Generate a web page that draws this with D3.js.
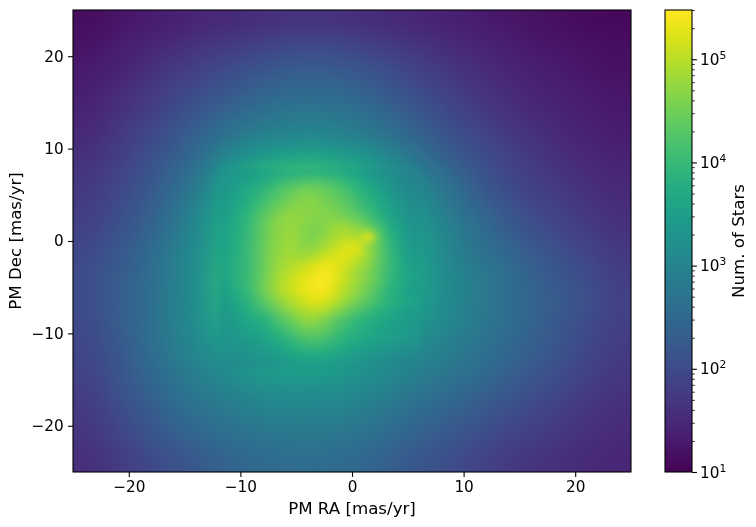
<!DOCTYPE html>
<html>
<head>
<meta charset="utf-8">
<script src="https://cdn.jsdelivr.net/npm/d3@7"></script>
<style>
body { margin: 0; background: #fff; }
#chart { position: relative; width: 756px; height: 527px; overflow: hidden; }
canvas, svg { position: absolute; left: 0; top: 0; }
text { font-family: "DejaVu Sans", sans-serif; fill: #000; }
</style>
</head>
<body>
<div id="chart"></div>
<script>
var width = 756,
	height = 527;

// all star counts are read off the picture, stored as 100*log10(count)
// coarse grid over the whole plot, 2.5 mas/yr cells, top row first
var outerX = d3.range(20).map(function(i) { return -25 + i * 2.5; });
var outerY = d3.range(20).map(function(i) { return 25 - i * 2.5; });
var outerCounts = [
	[115,124,132,140,148,154,159,163,165,163,159,154,148,141,134,127,121,116,112,109],
	[122,132,143,154,165,175,183,192,197,193,184,174,164,154,145,137,129,123,118,114],
	[130,141,155,170,184,198,211,221,226,222,212,198,183,169,156,146,137,130,124,119],
	[138,151,167,185,203,220,236,248,252,248,235,218,200,182,167,155,145,137,130,125],
	[146,161,180,200,222,244,262,275,279,274,260,240,219,198,180,165,153,144,136,130],
	[154,170,191,215,242,272,295,305,310,303,290,265,240,215,195,178,163,152,143,136],
	[163,180,202,230,262,310,345,365,372,360,338,305,268,236,210,190,174,161,150,142],
	[172,190,214,245,285,350,410,440,445,425,385,335,300,262,225,201,183,170,159,150],
	[180,199,224,258,305,365,430,467,465,450,410,355,320,280,245,216,196,181,168,157],
	[188,208,234,270,315,378,450,475,465,490,440,375,335,295,262,233,210,192,177,163],
	[197,218,246,282,322,385,458,478,480,505,450,390,345,302,272,248,227,207,190,175],
	[202,225,250,285,325,395,465,505,540,520,450,400,350,310,285,262,238,218,200,182],
	[202,227,252,286,325,392,455,510,530,495,435,385,345,310,285,262,241,225,205,187],
	[200,225,252,286,322,375,430,480,490,450,405,365,335,305,282,260,240,220,201,185],
	[195,220,250,282,312,345,385,402,402,380,358,332,310,290,272,252,233,214,195,180],
	[190,213,242,272,298,322,345,355,355,345,330,312,293,278,260,242,223,204,188,173],
	[182,205,232,258,281,298,312,322,322,317,305,290,273,257,241,224,207,191,177,165],
	[175,196,219,243,262,278,290,297,298,294,283,268,252,237,221,206,192,179,168,158],
	[168,186,207,227,244,258,269,276,278,274,264,249,234,219,204,190,179,169,160,152],
	[160,175,192,209,225,240,251,257,259,255,246,232,218,204,190,178,168,160,153,148]
];

// finer grid for the central clump, 1 mas/yr cells
var innerX = d3.range(18).map(function(i) { return -12 + i; });
var innerY = d3.range(22).map(function(i) { return 8 - i; });
var innerCounts = [
	[330,338,346,355,364,372,380,384,384,381,374,365,353,340,328,316,306,298],
	[334,346,358,368,385,400,412,420,426,420,410,395,378,360,342,326,313,303],
	[338,352,368,385,405,425,440,452,453,446,433,415,395,375,355,336,320,308],
	[342,358,376,395,418,436,455,465,464,456,444,428,408,386,365,345,328,313],
	[346,364,385,410,435,455,468,470,468,462,453,440,420,398,375,353,335,318],
	[350,370,392,422,448,468,476,472,466,466,464,456,442,418,390,362,342,323],
	[352,374,397,425,452,472,478,468,459,467,482,484,468,450,412,375,350,328],
	[354,376,398,427,454,474,480,468,460,473,490,500,492,528,432,385,355,332],
	[356,378,400,428,456,476,482,472,470,487,507,522,525,472,435,392,360,336],
	[358,380,400,428,458,478,486,482,490,508,522,525,512,480,435,397,365,340],
	[360,382,400,428,460,482,494,505,520,532,530,515,490,468,432,400,368,345],
	[360,384,402,430,462,488,505,520,535,545,530,505,480,460,428,397,372,352],
	[356,382,402,432,465,492,512,530,542,548,525,500,478,455,425,392,370,350],
	[350,375,395,430,462,490,510,528,538,540,515,490,468,442,410,385,365,348],
	[345,365,385,415,445,472,495,512,525,520,500,475,450,430,405,385,370,355],
	[340,358,375,398,420,450,472,492,500,495,470,445,422,403,385,370,358,346],
	[335,350,365,375,395,425,445,470,475,460,435,415,395,380,370,360,350,340],
	[332,342,355,365,380,405,425,445,450,440,420,400,385,372,362,352,346,338],
	[332,338,346,355,365,380,400,418,425,418,400,385,375,365,358,350,342,335],
	[326,330,336,343,352,362,378,392,396,392,380,368,358,350,342,335,328,322],
	[320,324,328,333,340,348,358,365,368,365,358,350,342,335,328,320,314,308],
	[312,316,320,325,330,336,342,347,348,346,340,334,328,320,312,306,300,295]
];

var xTicks = [-20, -10, 0, 10, 20];
var yTicks = [-20, -10, 0, 10, 20];
var cbMajor = [10, 100, 1000, 10000, 100000];
var cbMinor = [20,30,40,50,60,70,80,90,200,300,400,500,600,700,800,900,2000,3000,4000,5000,6000,7000,8000,9000,20000,30000,40000,50000,60000,70000,80000,90000,200000,300000];

var plot = { left: 73, right: 631, top: 10, bottom: 472 };
var bar = { left: 665, right: 692 };

var x = d3.scaleLinear().domain([-25, 25]).range([plot.left, plot.right]);
var y = d3.scaleLinear().domain([-25, 25]).range([plot.bottom, plot.top]);
var cbY = d3.scaleLog().domain([10, 300000]).range([plot.bottom, plot.top]);
var colorT = d3.scaleLog().domain([10, 300000]).range([0, 1]).clamp(true);

function color(v) { return d3.interpolateViridis(colorT(Math.pow(10, v / 100))); }

var chart = d3.select("#chart");
var canvas = chart.append("canvas").attr("width", width).attr("height", height);
var ctx = canvas.node().getContext("2d");

// paint a grid one pixel per cell, then let the canvas smooth it up to size
// pad=1 leaves a clear border so the fine grid fades into the coarse one
function drawGrid(xs, ys, rows, step, pad, quality, filter) {
	var off = document.createElement("canvas");
	off.width = xs.length + 2 * pad;
	off.height = ys.length + 2 * pad;
	var c = off.getContext("2d");
	rows.forEach(function(row, j) {
		row.forEach(function(v, i) {
			c.fillStyle = color(v);
			c.fillRect(i + pad, j + pad, 1, 1);
		});
	});
	var x0 = x(xs[0] - pad * step),
		x1 = x(xs[xs.length - 1] + step + pad * step),
		y0 = y(ys[0] + pad * step),
		y1 = y(ys[ys.length - 1] - step - pad * step);
	ctx.imageSmoothingEnabled = true;
	ctx.imageSmoothingQuality = quality;
	ctx.filter = filter;
	ctx.drawImage(off, x0, y0, x1 - x0, y1 - y0);
	ctx.filter = "none";
}

ctx.save();
ctx.beginPath();
ctx.rect(plot.left, plot.top, plot.right - plot.left, plot.bottom - plot.top);
ctx.clip();
drawGrid(outerX, outerY, outerCounts, 2.5, 0, "high", "none");
drawGrid(innerX, innerY, innerCounts, 1, 1, "low", "blur(2px)");
ctx.restore();

var svg = chart.append("svg").attr("width", width).attr("height", height);

var tickFont = 15.28,
	labelFont = 16.67;

var gx = svg.append("g")
	.attr("transform", "translate(0," + plot.bottom + ")")
	.call(d3.axisBottom(x).tickValues(xTicks).tickSize(4.9).tickPadding(4.5));
var gy = svg.append("g")
	.attr("transform", "translate(" + plot.left + ",0)")
	.call(d3.axisLeft(y).tickValues(yTicks).tickSize(4.9).tickPadding(4.5));

[gx, gy].forEach(function(g) {
	g.select(".domain").remove();
	g.selectAll("text").style("font-size", tickFont + "px").style("font-family", "DejaVu Sans");
	g.selectAll("line").attr("stroke", "#000").attr("stroke-width", 1.1);
});

svg.append("rect")
	.attr("x", plot.left).attr("y", plot.top)
	.attr("width", plot.right - plot.left).attr("height", plot.bottom - plot.top)
	.attr("fill", "none").attr("stroke", "#000").attr("stroke-width", 1.1);

svg.append("text")
	.attr("x", (plot.left + plot.right) / 2).attr("y", 514)
	.attr("text-anchor", "middle").style("font-size", labelFont + "px")
	.text("PM RA [mas/yr]");
svg.append("text")
	.attr("transform", "translate(21," + (plot.top + plot.bottom) / 2 + ") rotate(-90)")
	.attr("text-anchor", "middle").style("font-size", labelFont + "px")
	.text("PM Dec [mas/yr]");

// colour bar
var defs = svg.append("defs");
var grad = defs.append("linearGradient")
	.attr("id", "cb").attr("x1", 0).attr("y1", 1).attr("x2", 0).attr("y2", 0);
grad.selectAll("stop")
	.data(d3.range(0, 65))
	.enter().append("stop")
	.attr("offset", function(d) { return d / 64; })
	.attr("stop-color", function(d) { return d3.interpolateViridis(d / 64); });

svg.append("rect")
	.attr("x", bar.left).attr("y", plot.top)
	.attr("width", bar.right - bar.left).attr("height", plot.bottom - plot.top)
	.attr("fill", "url(#cb)").attr("stroke", "#000").attr("stroke-width", 1.1);

var gMinor = svg.append("g")
	.attr("transform", "translate(" + bar.right + ",0)")
	.call(d3.axisRight(cbY).tickValues(cbMinor).tickSize(2.8).tickFormat(""));
gMinor.select(".domain").remove();
gMinor.selectAll("line").attr("stroke", "#000").attr("stroke-width", 0.8);

var gMajor = svg.append("g")
	.attr("transform", "translate(" + bar.right + ",0)")
	.call(d3.axisRight(cbY).tickValues(cbMajor).tickSize(4.9).tickFormat(""));
gMajor.select(".domain").remove();
gMajor.selectAll("line").attr("stroke", "#000").attr("stroke-width", 1.1);

var cbLabels = svg.append("g").selectAll("text")
	.data(cbMajor)
	.enter().append("text")
	.attr("x", bar.right + 8)
	.attr("y", function(d) { return cbY(d) + 5.5; })
	.style("font-size", tickFont + "px");
cbLabels.append("tspan").text("10");
cbLabels.append("tspan")
	.attr("dy", -6)
	.style("font-size", "10.7px")
	.text(function(d) { return Math.round(Math.log10(d)); });

svg.append("text")
	.attr("transform", "translate(744," + (plot.top + plot.bottom) / 2 + ") rotate(-90)")
	.attr("text-anchor", "middle").style("font-size", labelFont + "px")
	.text("Num. of Stars");
</script>
</body>
</html>
